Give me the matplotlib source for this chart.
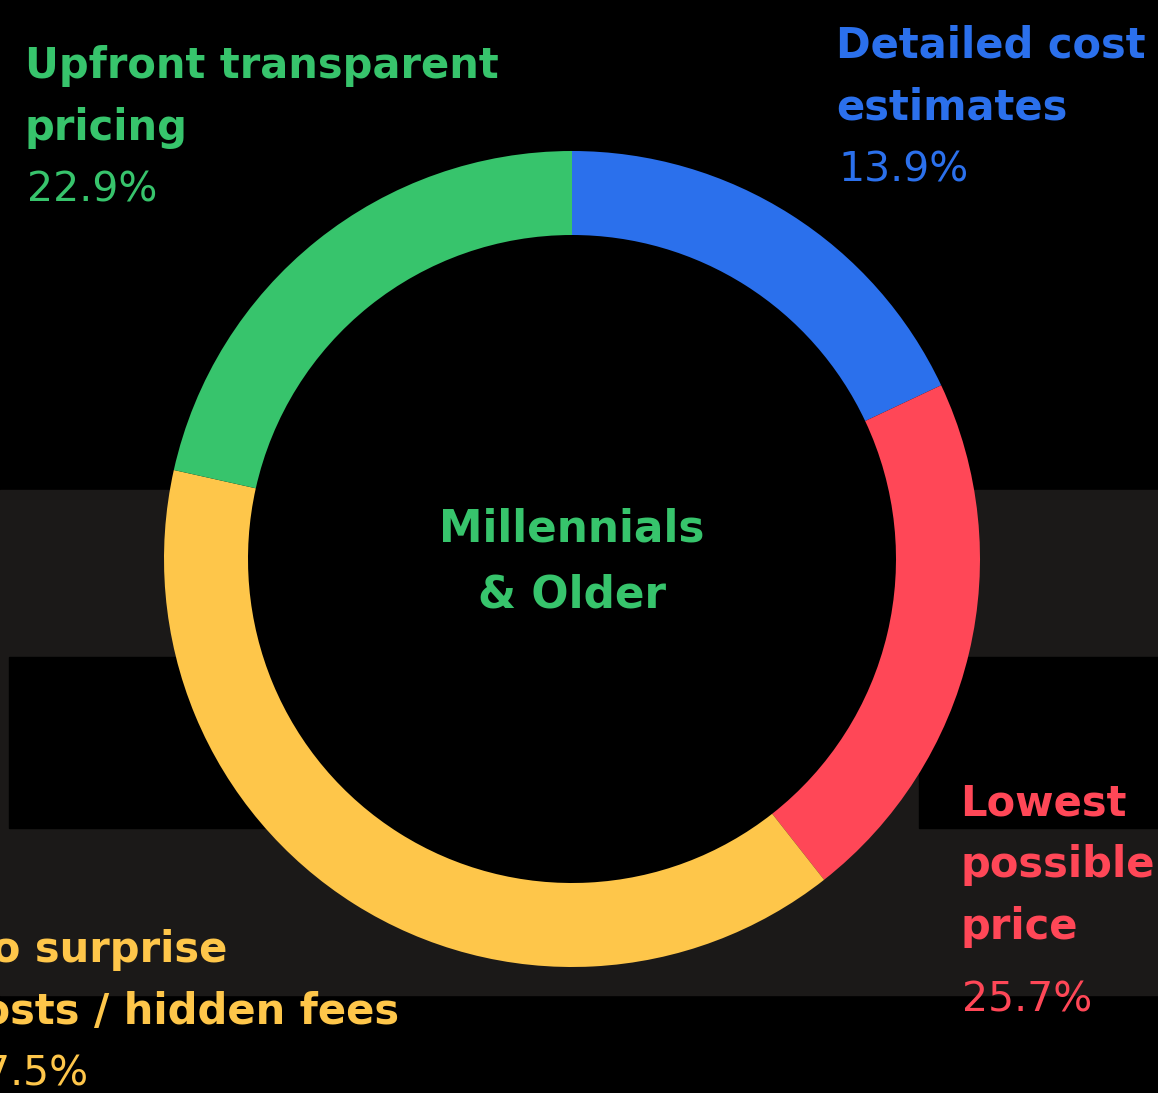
import matplotlib
matplotlib.use("Agg")
import matplotlib.pyplot as plt
from matplotlib.patches import Rectangle, Circle

# --- data ---
categories = ["Detailed cost\nestimates", "Lowest\npossible\nprice",
              "No surprise\ncosts / hidden fees", "Upfront transparent\npricing"]
# arc shares as drawn in the ring (percent of the circle)
shares = [18.0, 21.4, 39.1, 21.5]
# percentages as printed in the labels
pct_labels = ["13.9%", "25.7%", "37.5%", "22.9%"]
colors = ["#2b70ec", "#ff4757", "#fec64a", "#37c46c"]
center_title = "Millennials\n& Older"

W, H = 1158, 1093
BG = "#000000"
BAND = "#1b1918"
FONT = "DejaVu Sans"


def py(y):
    # pixel row (from top) -> data y
    return H - y


fig = plt.figure(figsize=(W / 100, H / 100), dpi=100, facecolor=BG)
ax = fig.add_axes([0, 0, 1, 1])
ax.set_facecolor(BG)

# background bands
ax.add_patch(Rectangle((0, py(995)), W, 995 - 490, color=BAND, zorder=0))
ax.add_patch(Rectangle((9, py(828)), 572 - 9, 828 - 657, color=BG, zorder=0.5))
ax.add_patch(Rectangle((919, py(828)), W - 919, 828 - 657, color=BG, zorder=0.5))

# donut
cx, cy, r_out, ring = 572, py(559), 408, 84
ax.pie(shares, colors=colors, radius=r_out, center=(cx, cy),
       startangle=90, counterclock=False,
       wedgeprops=dict(width=ring, linewidth=0), frame=True)
ax.add_patch(Circle((cx, cy), r_out - ring + 0.5, color=BG, zorder=0.8))

# labels: (x, first baseline row) for each category
label_pos = [(836, 58), (960, 815), (-43, 962), (25, 78)]
line_gap = 62
for (x, y0), name, pct, c in zip(label_pos, categories, pct_labels, colors):
    lines = name.split("\n")
    for i, ln in enumerate(lines):
        ax.text(x, py(y0 + i * line_gap), ln, color=c, fontsize=30,
                fontweight="bold", family=FONT, va="baseline", ha="left")
    extra = 10 if len(lines) == 3 else 0
    ax.text(x + 2, py(y0 + len(lines) * line_gap + extra), pct, color=c,
            fontsize=29.5, family=FONT, va="baseline", ha="left")

# centre title
for i, ln in enumerate(center_title.split("\n")):
    ax.text(572, py(541 + i * 67), ln, color=colors[3], fontsize=31.5,
            fontweight="bold", family=FONT, va="baseline", ha="center")

ax.set_xlim(0, W)
ax.set_ylim(0, H)
ax.set_aspect("auto")
ax.axis("off")

fig.savefig("out.png", dpi=100, facecolor=BG)
